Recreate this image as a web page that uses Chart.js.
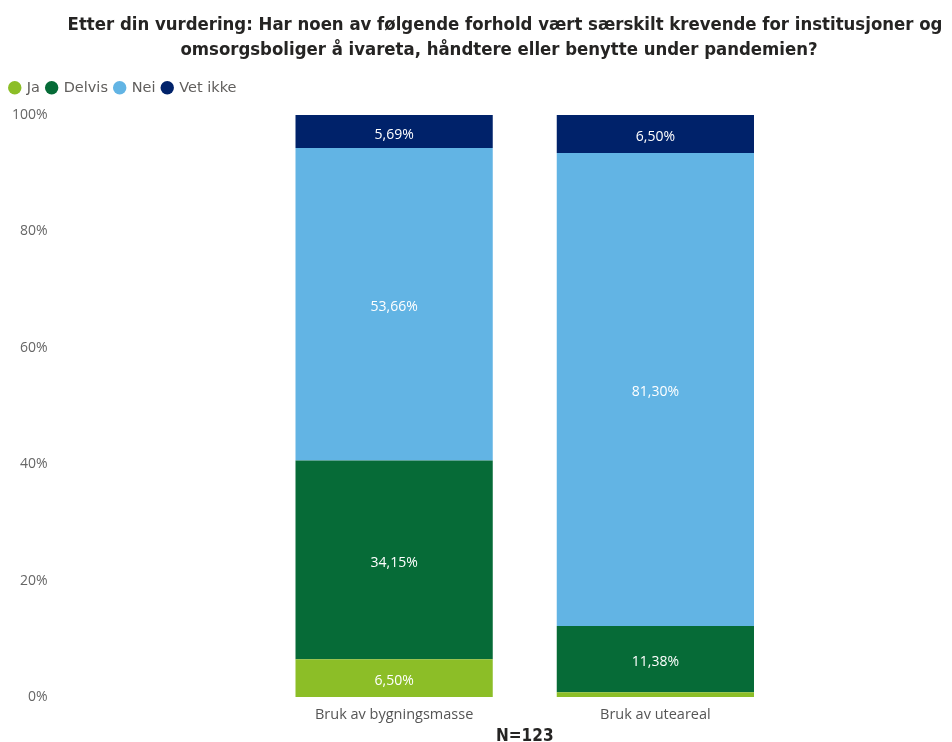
<!DOCTYPE html>
<html>
<head>
<meta charset="utf-8">
<script src="https://cdn.jsdelivr.net/npm/chart.js@4"></script>
<style>
  html, body { margin: 0; padding: 0; background: #ffffff; }
  #wrap { width: 952px; height: 742px; position: relative; }
</style>
</head>
<body>
<div id="wrap"><canvas id="chart" width="952" height="742"></canvas></div>
<script>
// Survey question and sample size
const titleLines = [
  'Etter din vurdering: Har noen av følgende forhold vært særskilt krevende for institusjoner og',
  'omsorgsboliger å ivareta, håndtere eller benytte under pandemien?'
];
const sampleLabel = 'N=123';

// Categories (x axis) and answer shares in percent
const categories = ['Bruk av bygningsmasse', 'Bruk av uteareal'];
const ja      = [6.50, 0.81];
const delvis  = [34.15, 11.38];
const nei     = [53.66, 81.30];
const vetIkke = [5.69, 6.50];

const yTicks = [0, 20, 40, 60, 80, 100];

const fmt = v => v.toFixed(2).replace('.', ',') + '%';

// White value labels inside each stacked segment
const segmentLabels = {
  id: 'segmentLabels',
  afterDatasetsDraw(chart) {
    const ctx = chart.ctx;
    ctx.save();
    ctx.font = '14px "Open Sans", "Noto Sans", sans-serif';
    ctx.fillStyle = '#ffffff';
    ctx.textAlign = 'center';
    ctx.textBaseline = 'middle';
    chart.data.datasets.forEach((ds, di) => {
      const meta = chart.getDatasetMeta(di);
      meta.data.forEach((bar, i) => {
        const v = ds.data[i];
        if (v < 3) return;
        const yMid = (bar.y + bar.base) / 2;
        ctx.fillText(fmt(v), bar.x, yMid + 3);
      });
    });
    ctx.restore();
  }
};

// Two-line heading drawn above the legend
const heading = {
  id: 'heading',
  afterDraw(chart) {
    const ctx = chart.ctx;
    ctx.save();
    ctx.font = 'bold 18.4px "DejaVu Sans Condensed", sans-serif';
    ctx.fillStyle = '#252423';
    ctx.textAlign = 'center';
    ctx.textBaseline = 'middle';
    ctx.fillText(titleLines[0], 505, 25);
    ctx.fillText(titleLines[1], 499, 50);
    ctx.restore();
  }
};

// Leaves room between the legend row and the plot
const legendGap = {
  id: 'legendGap',
  beforeInit(chart) {
    const legend = chart.legend;
    if (!legend) return;
    const fit = legend.fit;
    legend.fit = function () {
      fit.call(this);
      this.height = 41.5;
    };
  }
};

const chart = new Chart(document.getElementById('chart'), {
  type: 'bar',
  data: {
    labels: categories,
    datasets: [
      { label: 'Ja',       data: ja,      backgroundColor: '#8cbe27' },
      { label: 'Delvis',   data: delvis,  backgroundColor: '#066b37' },
      { label: 'Nei',      data: nei,     backgroundColor: '#62b4e4' },
      { label: 'Vet ikke', data: vetIkke, backgroundColor: '#00226a' }
    ]
  },
  options: {
    responsive: false,
    animation: false,
    layout: { padding: { left: 3, right: 166, top: 73.5, bottom: 0 } },
    datasets: { bar: { barPercentage: 0.755, categoryPercentage: 1 } },
    plugins: {
      legend: {
        position: 'top',
        align: 'start',
        labels: {
          usePointStyle: true,
          pointStyle: 'circle',
          boxWidth: 9.5,
          boxHeight: 9.5,
          padding: 7,
          color: '#605e5c',
          font: { family: '"DejaVu Sans", sans-serif', size: 14.5 }
        }
      },
      tooltip: { enabled: false }
    },
    scales: {
      x: {
        stacked: true,
        grid: { display: false },
        border: { display: false },
        afterFit(scale) { scale.height = 45; },
        ticks: {
          color: '#555555',
          padding: 1,
          font: { family: '"Open Sans", "Noto Sans", sans-serif', size: 14.5 }
        },
        title: {
          display: true,
          text: sampleLabel,
          color: '#252423',
          padding: { top: 0, bottom: -5 },
          font: { family: '"DejaVu Sans Condensed", sans-serif', size: 17, weight: 'bold' }
        }
      },
      y: {
        stacked: true,
        min: 0,
        max: 100,
        grid: { display: false, tickLength: 213 },
        border: { display: false },
        afterBuildTicks(scale) { scale.ticks = yTicks.map(v => ({ value: v })); },
        afterFit(scale) { scale.width = 260.5; },
        ticks: {
          padding: 3,
          color: '#666666',
          font: { family: '"Open Sans", "Noto Sans", sans-serif', size: 14 },
          callback: v => v + '%'
        }
      }
    }
  },
  plugins: [segmentLabels, heading, legendGap]
});
</script>
</body>
</html>
